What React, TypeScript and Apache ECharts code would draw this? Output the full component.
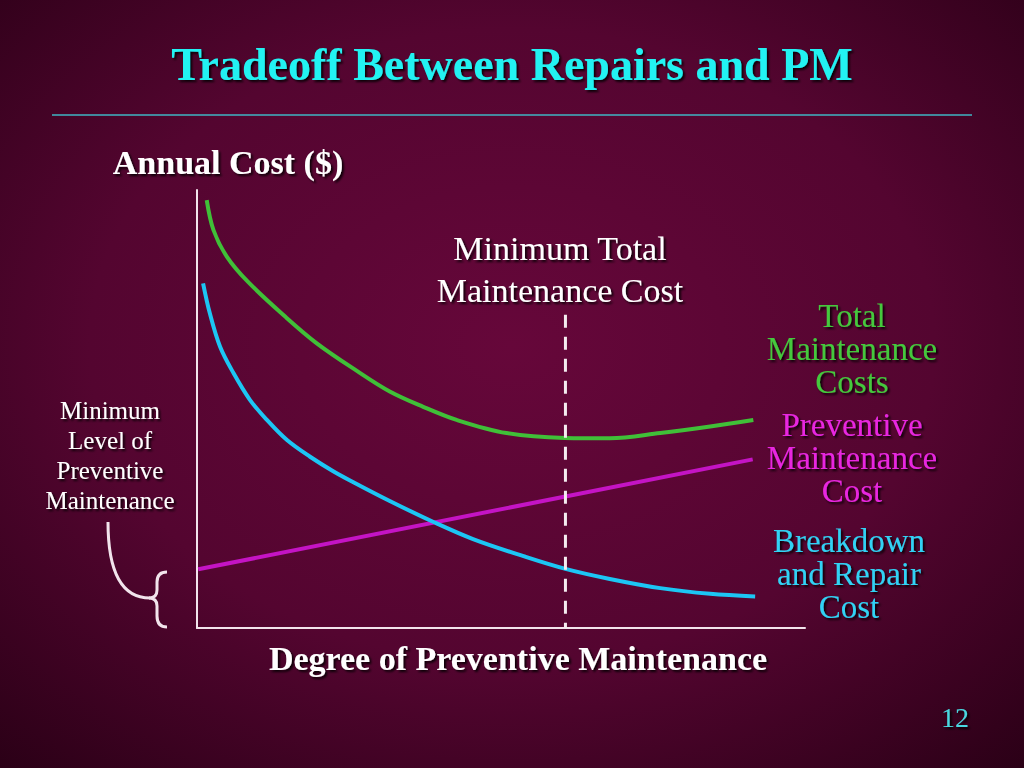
import React, { useEffect, useRef } from "react";
import * as echarts from "echarts";

const totalCost: [number, number][] = [
  [1.6, 97.7], [2.7, 90.9], [4.9, 84.8], [8.4, 79.0], [14.5, 71.1], [19.7, 65.0],
  [26.3, 58.7], [31.7, 54.0], [37.2, 50.5], [42.7, 47.5], [50.9, 44.5], [60.5, 43.4],
  [67.9, 43.3], [76.2, 44.5], [84.4, 46.0], [91.5, 47.5],
];
const breakdownCost: [number, number][] = [
  [1.0, 78.7], [2.1, 71.9], [3.8, 64.2], [6.0, 58.2], [8.7, 52.1], [11.5, 47.5],
  [14.8, 42.9], [18.6, 39.1], [22.4, 35.8], [25.7, 33.3], [31.7, 29.0], [38.9, 24.2],
  [45.4, 20.3], [53.7, 16.4], [60.6, 13.5], [67.9, 11.2], [76.2, 9.1], [84.4, 7.8], [91.8, 7.2],
];
const preventiveCost: [number, number][] = [[0.2, 13.4], [91.4, 38.5]];
const minimumX = 60.6;
const minimumMarkerTop = 71.5;

const titleText = "Tradeoff Between Repairs and PM";
const yAxisTitle = "Annual Cost ($)";
const xAxisTitle = "Degree of Preventive Maintenance";
const minTotalLabel = "Minimum Total\nMaintenance Cost";
const totalLabel = "Total\nMaintenance\nCosts";
const preventiveLabel = "Preventive\nMaintenance\nCost";
const breakdownLabel = "Breakdown\nand Repair\nCost";
const minLevelLabel = "Minimum\nLevel of\nPreventive\nMaintenance";
const pageNumber = "12";

echarts.graphic.registerShape(
  "brace",
  echarts.graphic.extendPath(
    "M167,572 Q157,572 157,582 L157,590 Q157,598 149,598 Q157,598 157,606 L157,616 Q157,627 167,627",
    {}
  )
);

const SERIF = '"Liberation Serif", "Times New Roman", serif';
const shadow = {
  textShadowColor: "rgba(0,0,0,0.85)",
  textShadowOffsetX: 2,
  textShadowOffsetY: 2,
  textShadowBlur: 2,
};

function txt(text: string, x: number, y: number, size: number, color: string, bold: boolean, lh: number) {
  return {
    type: "text",
    x,
    y,
    z: 10,
    style: {
      text,
      fill: color,
      font: `${bold ? "bold " : ""}${size}px ${SERIF}`,
      textAlign: "center",
      textVerticalAlign: "middle",
      lineHeight: lh,
      ...shadow,
    },
  };
}

export default function App() {
  const ref = useRef<HTMLDivElement>(null);
  useEffect(() => {
    if (!ref.current) return;
    const chart = echarts.init(ref.current, undefined, { renderer: "svg" });
    chart.setOption({
      animation: false,
      backgroundColor: {
        type: "radial",
        x: 0.5,
        y: 0.45,
        r: 0.75,
        colorStops: [
          { offset: 0, color: "#66073a" },
          { offset: 0.55, color: "#540530" },
          { offset: 1, color: "#2a0016" },
        ],
      },
      grid: { left: 197, right: 219, top: 190, bottom: 140 },
      xAxis: {
        type: "value",
        min: 0,
        max: 100,
        axisLine: { show: true, lineStyle: { color: "#f2e4ec", width: 2 } },
        axisTick: { show: false },
        axisLabel: { show: false },
        splitLine: { show: false },
      },
      yAxis: {
        type: "value",
        min: 0,
        max: 100,
        axisLine: { show: true, lineStyle: { color: "#f2e4ec", width: 2 } },
        axisTick: { show: false },
        axisLabel: { show: false },
        splitLine: { show: false },
      },
      series: [
        {
          type: "line",
          data: preventiveCost,
          symbol: "none",
          lineStyle: { color: "#c414c4", width: 4 },
        },
        {
          type: "line",
          data: breakdownCost,
          symbol: "none",
          smooth: 0.35,
          lineStyle: { color: "#1cc6f4", width: 4 },
        },
        {
          type: "line",
          data: totalCost,
          symbol: "none",
          smooth: 0.35,
          lineStyle: { color: "#40c038", width: 4 },
        },
        {
          type: "line",
          data: [[minimumX, minimumMarkerTop], [minimumX, 0]],
          symbol: "none",
          lineStyle: { color: "#f4ecf0", width: 3, type: [13, 9] },
        },
      ],
      graphic: [
        txt(titleText, 512, 64, 46, "#22f2f2", true, 50),
        {
          type: "line",
          shape: { x1: 52, y1: 115, x2: 972, y2: 115 },
          style: { stroke: "#3fb6c4", lineWidth: 1.5 },
        },
        txt(yAxisTitle, 228, 162, 34, "#ffffff", true, 36),
        txt(minTotalLabel, 560, 269, 34, "#ffffff", false, 42),
        txt(totalLabel, 852, 349, 33, "#44c83c", false, 33),
        txt(preventiveLabel, 852, 458, 33, "#e828e0", false, 33),
        txt(breakdownLabel, 849, 574, 33, "#30d2f4", false, 33),
        txt(minLevelLabel, 110, 455, 25, "#ffffff", false, 30),
        txt(xAxisTitle, 518, 658, 34, "#ffffff", true, 36),
        txt(pageNumber, 955, 717, 28, "#4ad8e0", false, 30),
        {
          type: "bezierCurve",
          shape: { x1: 108, y1: 522, cpx1: 108, cpy1: 598, x2: 150, y2: 598 },
          style: { stroke: "#f2e4ec", lineWidth: 3, fill: "none" },
        },
        {
          type: "brace",
          style: { stroke: "#f2e4ec", lineWidth: 3, fill: "none" },
        },
      ],
    });
    return () => chart.dispose();
  }, []);
  return (
    <div
      ref={ref}
      style={{ position: "fixed", left: 0, top: 0, width: 1024, height: 768 }}
    />
  );
}
